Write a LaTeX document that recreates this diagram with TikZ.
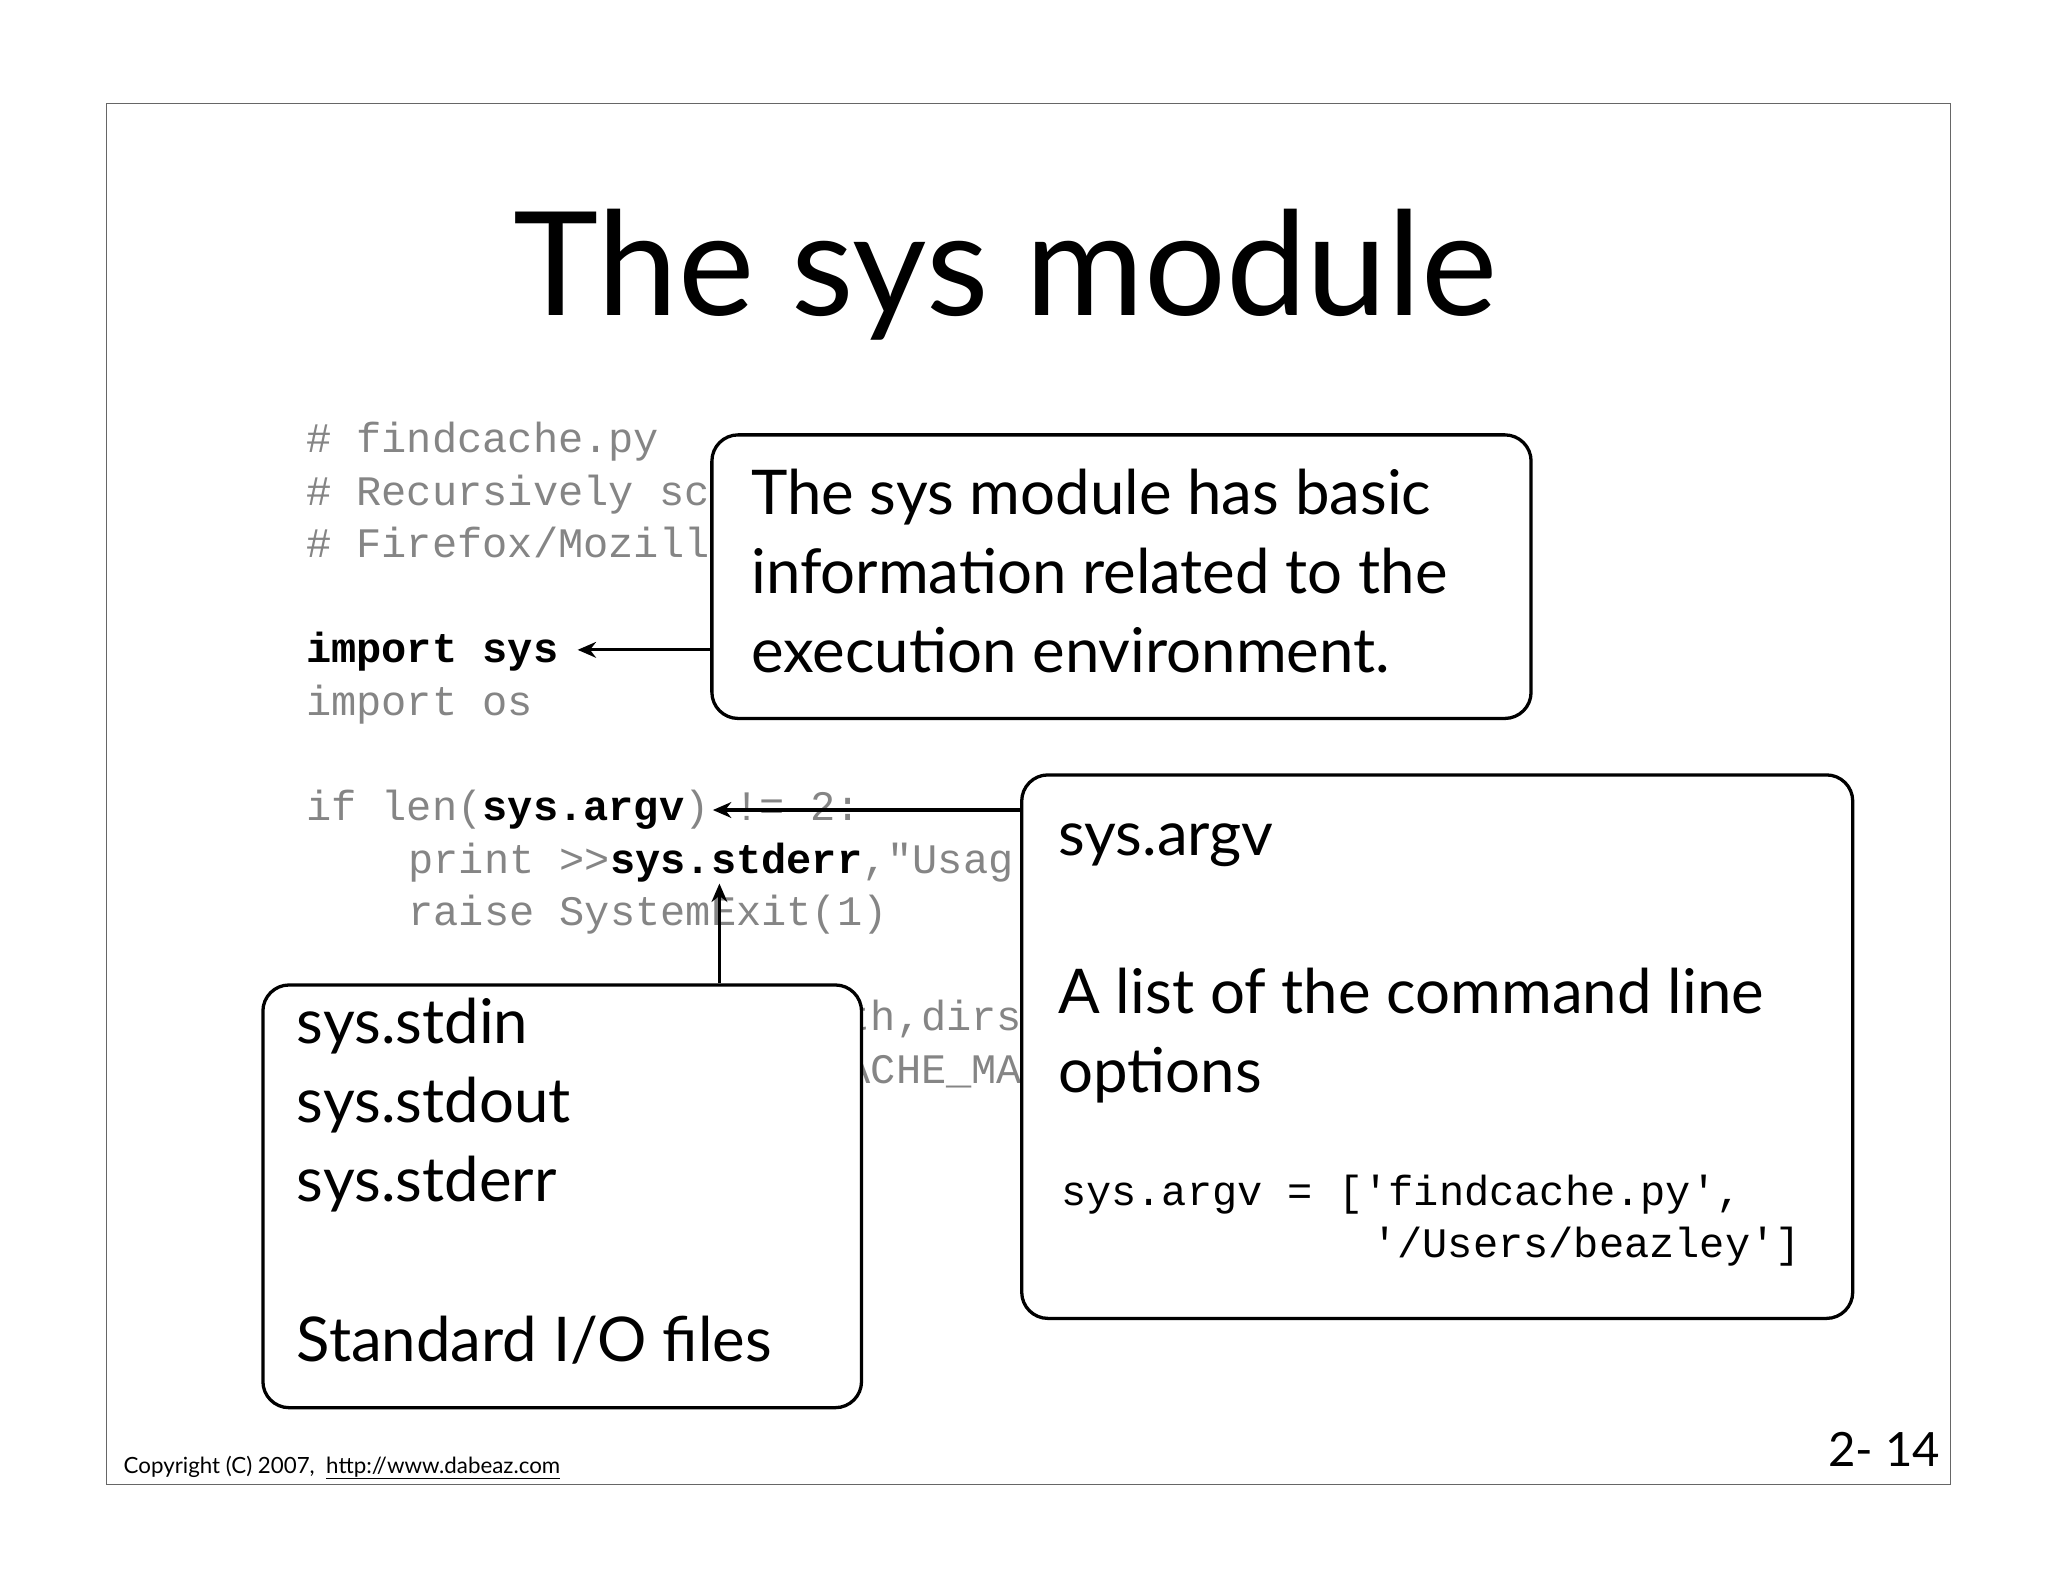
\documentclass[tikz,border=0pt]{standalone}
\usepackage{fontspec}
\setmainfont{Lato}
\setmonofont{Liberation Mono}
\usetikzlibrary{arrows.meta}
\definecolor{codegray}{HTML}{858585}
\tikzset{
  code/.style={anchor=base west,inner sep=0pt,font=\fontsize{32}{40}\selectfont\ttfamily,text=codegray},
  bcode/.style={code,text=black,font=\fontsize{32}{40}\selectfont\ttfamily\bfseries},
  callout/.style={draw=black,line width=2.5pt,rounded corners=20pt,fill=white},
  btext/.style={anchor=base west,inner sep=0pt,font=\fontsize{47}{60}\selectfont},
  arr/.style={line width=2.5pt,-{Stealth[length=14pt,width=12pt]}}
}
\begin{document}
\begin{tikzpicture}[x=1pt,y=-1pt]
\useasboundingbox (0,0) rectangle (1560,1205);
\draw[line width=0.8pt,black!60] (81,79) rectangle (1486,1131);
\node[anchor=base,inner sep=0pt,font=\fontsize{110}{120}\selectfont] (title) at (766,240) {The sys module};
% code
\node[code] (c1) at (233,345) {\# findcache.py};
\node[code] (c2) at (233,385) {\# Recursively sc};
\node[code] (c3) at (233,425) {\# Firefox/Mozill};
\node[bcode] (c4) at (233,505) {import sys};
\node[code] (c5) at (233,545) {import os};
\node[code] (c6) at (233,625) {if len(\textcolor{black}{\bfseries sys.argv}) != 2:};
\node[code] (c7) at (311,665) {print >>\textcolor{black}{\bfseries sys.stderr},"Usag};
\node[code] (c8) at (311,705) {raise SystemExit(1)};
\node[code] (c9) at (644,785) {th,dirs};
\node[code] (c10) at (644,825) {ACHE\_MA};
% boxes
\node[callout,minimum width=624pt,minimum height=216pt,anchor=north west] (b1) at (541,330) {};
\node[btext] at (572,392) {The sys module has basic};
\node[btext] at (572,452) {information related to the};
\node[btext] at (572,512) {execution environment.};
\node[callout,minimum width=633pt,minimum height=414pt,anchor=north west] (b2) at (777,589) {};
\node[btext] at (806,652) {sys.argv};
\node[btext] at (806,772) {A list of the command line};
\node[btext] at (806,832) {options};
\node[code,text=black] at (808,918) {sys.argv = ['findcache.py',};
\node[code,text=black] at (1045,958) {'/Users/beazley']};
\node[callout,minimum width=456pt,minimum height=322pt,anchor=north west] (b3) at (199,749) {};
\node[btext] at (226,795) {sys.stdin};
\node[btext] at (226,855) {sys.stdout};
\node[btext] at (226,915) {sys.stderr};
\node[btext] at (226,1037) {Standard I/O files};
% arrows
\coordinate (t1) at (440,495);
\coordinate (t2) at (543,617);
\coordinate (t3) at (548,673);
\draw[arr] (b1.west |- t1) -- (t1);
\draw[arr] (b2.west |- t2) -- (t2);
\draw[arr] (b3.north -| t3) -- (t3);
% footer
\node[anchor=base west,inner sep=0pt,font=\fontsize{17}{20}\selectfont] (copy) at (94,1122) {Copyright (C) 2007,\ \ \underline{http://www.dabeaz.com}};
\node[anchor=base east,inner sep=0pt,font=\fontsize{36}{40}\selectfont] (pg) at (1478,1117) {2- 14};
\end{tikzpicture}
\end{document}
